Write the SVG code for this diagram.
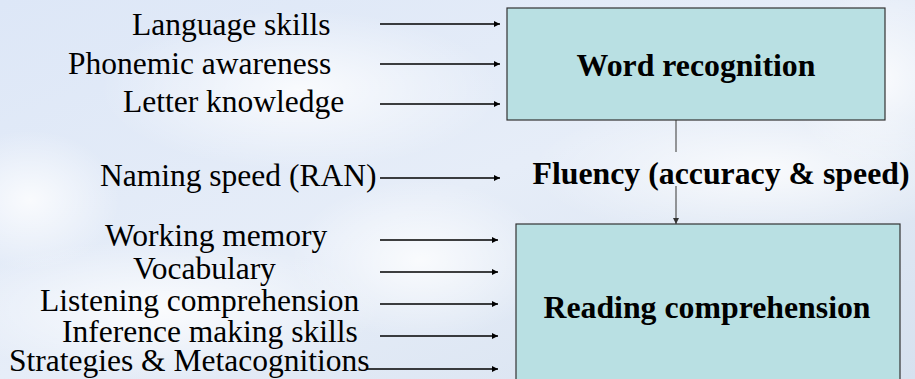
<svg xmlns="http://www.w3.org/2000/svg" width="915" height="379" viewBox="0 0 915 379">
  <defs>
    <linearGradient id="sky" x1="0" y1="0" x2="1" y2="1">
      <stop offset="0" stop-color="#dde7f7"/>
      <stop offset="0.5" stop-color="#e6edf8"/>
      <stop offset="1" stop-color="#d6e1ef"/>
    </linearGradient>
    <radialGradient id="cloud">
      <stop offset="0" stop-color="#ffffff" stop-opacity="0.8"/>
      <stop offset="1" stop-color="#ffffff" stop-opacity="0"/>
    </radialGradient>
    <marker id="ah" viewBox="0 0 10 10" refX="10" refY="5" markerWidth="8" markerHeight="6" markerUnits="userSpaceOnUse" orient="auto">
      <path d="M0,0 L10,5 L0,10 Z" fill="#000" stroke="none"/>
    </marker>
    <marker id="ahg" viewBox="0 0 10 10" refX="10" refY="5" markerWidth="8" markerHeight="6" markerUnits="userSpaceOnUse" orient="auto">
      <path d="M0,0 L10,5 L0,10 Z" fill="#333" stroke="none"/>
    </marker>
  </defs>

  <g id="background">
    <rect x="0" y="0" width="915" height="379" fill="url(#sky)"/>
    <ellipse cx="300" cy="90" rx="200" ry="80" fill="url(#cloud)"/>
    <ellipse cx="160" cy="310" rx="220" ry="70" fill="url(#cloud)"/>
    <ellipse cx="420" cy="260" rx="130" ry="80" fill="url(#cloud)"/>
    <ellipse cx="760" cy="170" rx="230" ry="70" fill="url(#cloud)"/>
    <ellipse cx="880" cy="80" rx="90" ry="90" fill="url(#cloud)"/>
    <ellipse cx="30" cy="200" rx="90" ry="70" fill="url(#cloud)"/>
  </g>

  <g id="connectors" fill="none">
    <g stroke="#000" stroke-width="1.3" marker-end="url(#ah)">
      <line x1="380" y1="24" x2="500" y2="24"/>
      <line x1="380" y1="64" x2="500" y2="64"/>
      <line x1="380" y1="104" x2="500" y2="104"/>
      <line x1="380" y1="178" x2="500" y2="178"/>
      <line x1="380" y1="240" x2="498" y2="240"/>
      <line x1="380" y1="272" x2="498" y2="272"/>
      <line x1="380" y1="304" x2="498" y2="304"/>
      <line x1="380" y1="336" x2="498" y2="336"/>
      <line x1="366" y1="369" x2="498" y2="369"/>
    </g>
    <g stroke="#555" stroke-width="1.2">
      <line x1="676" y1="120" x2="676" y2="152"/>
      <line x1="676" y1="186" x2="676" y2="224" marker-end="url(#ahg)"/>
    </g>
  </g>

  <g id="word-recognition">
    <rect x="507" y="8" width="378" height="112" fill="#b9e0e3" stroke="#333" stroke-width="1.2"/>
    <text font-family="Liberation Serif" font-size="31.8" font-weight="bold" x="696" y="76" text-anchor="middle">Word recognition</text>
  </g>

  <g id="fluency">
    <text font-family="Liberation Serif" font-size="31.8" font-weight="bold" x="721" y="184" text-anchor="middle">Fluency (accuracy &amp; speed)</text>
  </g>

  <g id="reading-comprehension">
    <rect x="516" y="224" width="384" height="170" fill="#b9e0e3" stroke="#333" stroke-width="1.2"/>
    <text font-family="Liberation Serif" font-size="31.8" font-weight="bold" x="707" y="318" text-anchor="middle">Reading comprehension</text>
  </g>

  <g id="language-skills"><text font-family="Liberation Serif" font-size="31.5" x="132" y="35">Language skills</text></g>
  <g id="phonemic-awareness"><text font-family="Liberation Serif" font-size="31.5" x="68" y="74">Phonemic awareness</text></g>
  <g id="letter-knowledge"><text font-family="Liberation Serif" font-size="31.5" x="123" y="112">Letter knowledge</text></g>
  <g id="naming-speed"><text font-family="Liberation Serif" font-size="31.5" x="100" y="186">Naming speed (RAN)</text></g>
  <g id="working-memory"><text font-family="Liberation Serif" font-size="31.5" x="105" y="246">Working memory</text></g>
  <g id="vocabulary"><text font-family="Liberation Serif" font-size="31.5" x="133" y="279">Vocabulary</text></g>
  <g id="listening-comprehension"><text font-family="Liberation Serif" font-size="31.5" x="40" y="311">Listening comprehension</text></g>
  <g id="inference-making"><text font-family="Liberation Serif" font-size="31.5" x="62" y="342">Inference making skills</text></g>
  <g id="strategies"><text font-family="Liberation Serif" font-size="31.5" x="9" y="371">Strategies &amp; Metacognitions</text></g>
</svg>
